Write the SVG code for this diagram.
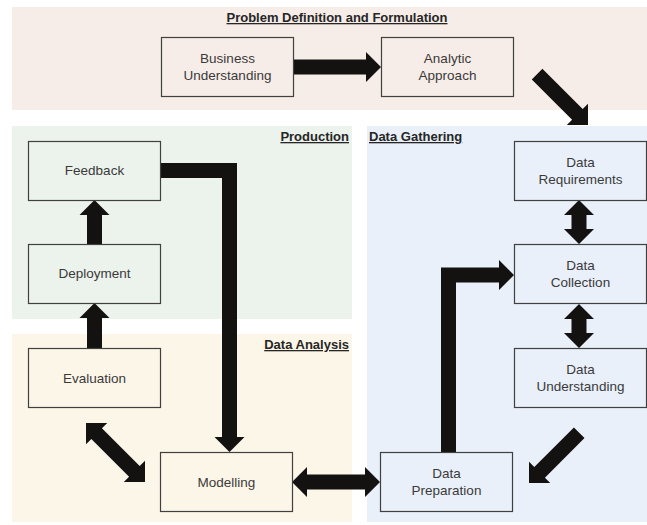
<svg xmlns="http://www.w3.org/2000/svg" width="647" height="525" viewBox="0 0 647 525">
<style>
.band-title{font-family:"Liberation Sans",Arial,sans-serif;font-size:13px;font-weight:bold;fill:#262626;text-decoration:underline;}
.box{fill:none;stroke:#404040;stroke-width:1.2;}
.lbl{font-family:"Liberation Sans",Arial,sans-serif;font-size:13.5px;fill:#3a3a3a;text-anchor:middle;}
.arr{fill:#141210;}
</style>
<rect width="647" height="525" fill="#ffffff"/>
<g id="bands">
<rect x="12" y="7" width="635" height="103" fill="#f7ede8"/>
<rect x="12" y="126" width="340" height="193" fill="#ecf2ec"/>
<rect x="12" y="334" width="340" height="188" fill="#fcf6e8"/>
<rect x="367" y="126" width="280" height="396" fill="#e9f0f9"/>
<text class="band-title" x="337" y="22" text-anchor="middle">Problem Definition and Formulation</text>
<text class="band-title" x="349" y="141" text-anchor="end">Production</text>
<text class="band-title" x="369" y="141">Data Gathering</text>
<text class="band-title" x="349" y="349" text-anchor="end">Data Analysis</text>
</g>
<g id="connectors">
<polygon class="arr" points="293,59.5 366,59.5 366,52 381,67 366,82 366,74.5 293,74.5"/>
<polygon class="arr" transform="translate(588,125) rotate(45)" points="-72,-7.5 -15,-7.5 -15,-15 0,0 -15,15 -15,7.5 -72,7.5"/>
<polygon class="arr" points="579,200 594,215 586.5,215 586.5,229 594,229 579,244 564,229 571.5,229 571.5,215 564,215"/>
<polygon class="arr" points="579,304 594,319 586.5,319 586.5,333 594,333 579,348 564,333 571.5,333 571.5,319 564,319"/>
<polygon class="arr" transform="translate(529,483) rotate(135)" points="-71,-7.5 -15,-7.5 -15,-15 0,0 -15,15 -15,7.5 -71,7.5"/>
<polygon class="arr" points="441,452 441,267.5 499,267.5 499,260 514,275 499,290 499,282.5 456,282.5 456,452"/>
<polygon class="arr" points="292,482 307,467 307,474.5 365,474.5 365,467 380,482 365,497 365,489.5 307,489.5 307,497"/>
<polygon class="arr" transform="translate(145,482) rotate(45)" points="-83.4,0 -68.4,-15 -68.4,-7.5 -15,-7.5 -15,-15 0,0 -15,15 -15,7.5 -68.4,7.5 -68.4,15"/>
<polygon class="arr" points="160,163 237,163 237,437 244.5,437 229.5,452 214.5,437 222,437 222,178 160,178"/>
<polygon class="arr" points="87,348 87,318 79.5,318 94.5,303 109.5,318 102,318 102,348"/>
<polygon class="arr" points="87,244 87,215 79.5,215 94.5,200 109.5,215 102,215 102,244"/>
</g>
<g id="business-understanding">
<rect class="box" x="161.5" y="37.5" width="132" height="59"/>
<text class="lbl" x="227.5" y="63">Business</text>
<text class="lbl" x="227.5" y="80">Understanding</text>
</g>
<g id="analytic-approach">
<rect class="box" x="381.5" y="37.5" width="132" height="59"/>
<text class="lbl" x="447.5" y="63">Analytic</text>
<text class="lbl" x="447.5" y="80">Approach</text>
</g>
<g id="feedback">
<rect class="box" x="28.5" y="141.5" width="132" height="59"/>
<text class="lbl" x="94.5" y="175">Feedback</text>
</g>
<g id="deployment">
<rect class="box" x="28.5" y="244.5" width="132" height="59"/>
<text class="lbl" x="94.5" y="278">Deployment</text>
</g>
<g id="evaluation">
<rect class="box" x="28.5" y="348.5" width="132" height="59"/>
<text class="lbl" x="94.5" y="382.5">Evaluation</text>
</g>
<g id="modelling">
<rect class="box" x="160.5" y="452.5" width="132" height="59"/>
<text class="lbl" x="226.5" y="486.5">Modelling</text>
</g>
<g id="data-requirements">
<rect class="box" x="514.5" y="141.5" width="132" height="59"/>
<text class="lbl" x="580.5" y="166.5">Data</text>
<text class="lbl" x="580.5" y="183.5">Requirements</text>
</g>
<g id="data-collection">
<rect class="box" x="514.5" y="244.5" width="132" height="59"/>
<text class="lbl" x="580.5" y="270">Data</text>
<text class="lbl" x="580.5" y="287">Collection</text>
</g>
<g id="data-understanding">
<rect class="box" x="514.5" y="348.5" width="132" height="59"/>
<text class="lbl" x="580.5" y="374">Data</text>
<text class="lbl" x="580.5" y="391">Understanding</text>
</g>
<g id="data-preparation">
<rect class="box" x="380.5" y="452.5" width="132" height="59"/>
<text class="lbl" x="446.5" y="478">Data</text>
<text class="lbl" x="446.5" y="495">Preparation</text>
</g>
</svg>
